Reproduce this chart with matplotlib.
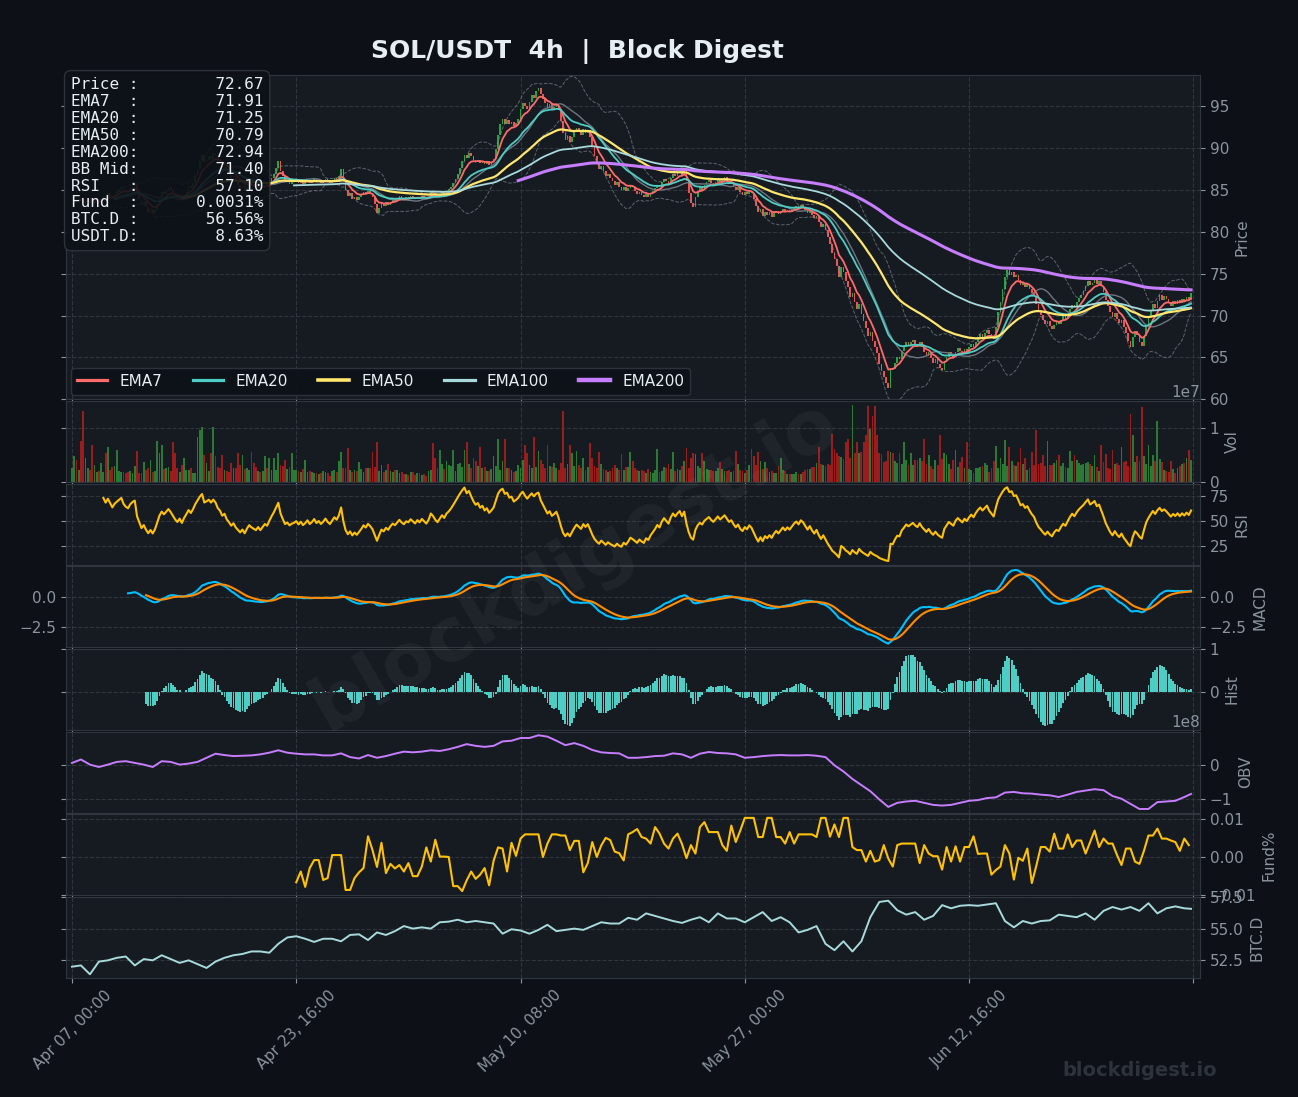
import numpy as np
import pandas as pd
import matplotlib
matplotlib.use("Agg")
import matplotlib.pyplot as plt

# ---------------- data ----------------
start_time = "2025-04-07 00:00"

close = [
    83.6, 83.9, 83.5, 84.0, 83.7, 83.3, 83.6, 84.0, 83.5, 83.2,
    83.5, 83.9, 83.6, 83.8, 84.3, 84.0, 84.6, 84.3, 84.0, 84.5,
    84.8, 85.1, 85.4, 85.0, 84.8, 84.7, 85.2, 85.5, 85.7, 84.5,
    83.9, 83.2, 83.5, 82.9, 82.4, 82.7, 82.2, 82.6, 83.3, 84.2,
    84.8, 84.5, 84.9, 85.3, 85.0, 84.6, 84.2, 83.9, 84.3, 83.8,
    84.4, 84.9, 85.5, 85.2, 85.8, 86.7, 87.5, 88.4, 89.2, 88.3,
    88.6, 89.0, 88.7, 89.4, 89.1, 88.5, 88.2, 87.6, 87.9, 87.2,
    86.8, 86.3, 86.6, 86.0, 85.6, 85.2, 85.5, 84.9, 85.4, 85.8,
    85.5, 85.3, 85.1, 85.4, 85.0, 85.3, 85.6, 85.4, 85.9, 86.4,
    86.9, 87.6, 88.4, 87.3, 86.6, 85.9, 86.1, 85.7, 85.9, 86.0,
    86.2, 85.8, 86.1, 85.7, 85.9, 86.2, 85.8, 86.0, 86.3, 85.9,
    86.1, 85.8, 86.0, 86.3, 86.0, 85.8, 86.1, 86.4, 86.2, 86.6,
    87.5, 86.2, 85.0, 84.3, 84.6, 83.9, 84.2, 83.8, 84.1, 84.4,
    84.8, 84.5, 84.9, 84.6, 84.2, 83.3, 82.2, 82.8, 83.4, 83.1,
    83.5, 83.2, 83.6, 83.9, 83.7, 84.0, 84.3, 84.0, 83.8, 84.1,
    84.0, 84.3, 84.1, 83.9, 84.2, 84.0, 84.3, 84.1, 83.9, 84.2,
    84.8, 84.6, 84.3, 84.1, 84.4, 84.7, 84.5, 84.9, 85.1, 85.4,
    85.8, 86.3, 86.9, 87.6, 88.4, 89.2, 88.8, 89.4, 89.0, 88.6,
    88.3, 88.6, 88.2, 88.5, 88.1, 88.4, 88.0, 88.3, 88.7, 89.9,
    91.6, 92.8, 93.4, 92.9, 93.3, 92.8, 93.1, 92.6, 93.0, 93.5,
    94.6, 95.4, 95.0, 94.7, 95.5, 96.3, 96.0, 96.8, 97.2, 96.4,
    95.9, 95.4, 94.8, 95.2, 94.6, 94.9, 95.3, 94.5, 93.2, 91.8,
    91.0, 91.4, 90.7, 91.3, 91.9, 92.4, 92.0, 91.6, 92.3, 91.8,
    92.2, 91.3, 90.1, 89.0, 88.2, 87.5, 87.9, 87.3, 86.6, 86.9,
    86.4, 86.0, 85.6, 85.9, 85.3, 85.0, 85.4, 84.9, 85.2, 85.6,
    85.3, 84.9, 84.5, 84.8, 84.4, 84.1, 84.5, 84.2, 84.6, 84.9,
    85.2, 85.6, 85.3, 85.9, 86.3, 86.0, 85.7, 86.4, 86.9, 86.6,
    87.0, 87.3, 86.8, 87.4, 86.0, 84.6, 83.4, 82.9, 84.2, 84.9,
    85.3, 85.0, 85.6, 85.9, 86.2, 85.8, 85.5, 85.9, 86.3, 85.9,
    86.2, 86.5, 86.1, 85.7, 85.9, 85.4, 85.0, 85.3, 84.7, 84.4,
    84.8, 84.5, 84.9, 84.6, 83.9, 83.1, 82.3, 82.7, 81.9, 82.4,
    82.0, 82.3, 81.8, 82.2, 82.5, 82.1, 82.4, 82.7, 82.3, 82.6,
    82.3, 82.6, 82.9, 83.1, 82.8, 83.2, 83.0, 82.6, 82.2, 82.5,
    82.0, 81.6, 81.9, 81.2, 80.6, 80.9, 80.2, 79.4, 78.6, 77.5,
    76.8, 75.9, 74.6, 75.8, 75.2, 74.1, 73.4, 72.2, 72.7, 71.6,
    70.8, 71.4, 70.2, 69.3, 68.5, 67.6, 68.1, 67.0, 66.2, 65.5,
    64.2, 63.4, 62.7, 61.9, 61.4, 63.8, 63.6, 64.4, 65.0, 64.8,
    65.8, 66.3, 66.9, 66.5, 66.8, 67.1, 66.6, 66.3, 66.9, 66.2,
    65.7, 65.2, 65.6, 64.9, 64.4, 64.8, 64.2, 63.8, 63.5, 64.6,
    65.1, 65.6, 65.3, 65.0, 65.7, 66.1, 65.8, 65.5, 66.0, 65.7,
    66.2, 66.6, 66.3, 66.9, 67.4, 67.8, 67.5, 67.9, 68.3, 67.8,
    67.5, 67.2, 68.6, 70.4, 71.6, 73.2, 74.6, 75.4, 74.8, 75.2,
    74.6, 74.9, 74.3, 73.6, 73.9, 73.4, 73.8, 73.2, 72.7, 72.3,
    71.4, 70.6, 70.1, 69.5, 69.0, 69.4, 68.8, 68.4, 68.9, 69.2,
    69.0, 69.5, 69.9, 69.6, 70.2, 70.8, 71.3, 71.0, 71.6, 72.1,
    72.5, 72.9, 73.5, 74.1, 73.6, 73.9, 74.3, 73.8, 74.1, 73.5,
    72.8, 71.9, 71.2, 70.4, 69.8, 70.3, 69.6, 69.1, 69.5, 68.6,
    67.9, 67.0, 66.3, 67.4, 68.2, 67.7, 66.9, 66.4, 67.6, 68.9,
    69.8, 70.6, 71.4, 70.9, 71.8, 72.4, 71.9, 72.3, 72.0, 71.6,
    71.2, 71.7, 71.4, 71.9, 71.5, 72.0, 71.7, 72.2, 71.9, 72.67,
]

# volume per bar, millions
volume_m = [
    2.5, 4.7, 4.1, 2.2, 7.5, 13.1, 4.4, 2.5, 2.3, 6.8,
    3.2, 1.9, 2.1, 3.5, 1.8, 5.3, 6.5, 2.2, 2.8, 2.9,
    5.9, 2.0, 1.9, 1.8, 1.6, 1.9, 2.0, 1.7, 2.9, 5.7,
    1.6, 1.7, 3.6, 2.2, 2.5, 4.1, 1.9, 2.0, 7.5, 5.3,
    6.8, 2.4, 2.6, 2.7, 2.1, 7.4, 5.3, 2.5, 1.9, 3.1,
    4.5, 2.2, 2.2, 2.6, 1.7, 1.6, 8.3, 9.5, 10.1, 5.0,
    3.5, 2.1, 5.3, 10.1, 4.7, 2.7, 2.6, 5.0, 2.2, 2.0,
    1.9, 3.5, 2.6, 2.5, 5.3, 3.1, 5.0, 2.4, 2.5, 2.2,
    5.6, 3.5, 2.8, 2.0, 1.8, 2.1, 4.7, 2.5, 4.4, 2.3,
    4.4, 2.2, 5.3, 3.1, 3.0, 4.1, 2.4, 2.8, 5.3, 2.2,
    2.2, 2.0, 1.9, 2.4, 4.1, 1.9, 2.1, 1.8, 1.7, 1.6,
    1.5, 1.7, 2.0, 1.9, 1.6, 1.1, 2.0, 2.2, 1.9, 3.9,
    5.6, 2.5, 2.6, 6.2, 2.2, 1.8, 2.2, 2.1, 3.6, 2.4,
    1.9, 2.6, 2.5, 2.6, 5.6, 2.8, 7.3, 2.1, 3.1, 1.9,
    2.3, 3.3, 2.0, 1.9, 2.2, 2.3, 1.6, 1.8, 1.5, 1.4,
    1.3, 1.9, 1.8, 1.3, 1.7, 1.6, 1.3, 1.4, 1.2, 2.1,
    2.2, 7.1, 4.4, 2.5, 5.9, 3.3, 2.4, 3.8, 3.1, 3.0,
    5.9, 2.1, 3.4, 3.5, 2.8, 5.9, 7.3, 3.4, 2.6, 4.4,
    3.9, 2.9, 6.5, 2.6, 2.7, 2.1, 2.0, 2.4, 4.7, 3.0,
    8.0, 2.2, 3.9, 8.0, 2.5, 2.5, 2.3, 1.8, 2.1, 3.1,
    2.6, 4.1, 6.9, 5.3, 3.1, 2.6, 8.3, 2.7, 5.7, 4.1,
    3.4, 2.5, 6.8, 3.0, 2.7, 3.5, 2.6, 2.2, 3.5, 13.0,
    2.5, 3.3, 6.9, 5.3, 3.0, 5.7, 3.1, 2.6, 4.4, 2.3,
    2.8, 7.1, 4.4, 3.0, 2.6, 5.6, 3.3, 2.4, 2.2, 1.9,
    2.0, 2.6, 3.2, 2.5, 2.3, 5.1, 2.3, 2.7, 2.8, 5.6,
    3.8, 2.5, 2.3, 2.0, 2.2, 2.1, 1.6, 2.4, 1.8, 1.7,
    2.3, 6.1, 1.9, 2.1, 2.7, 2.6, 3.4, 2.4, 5.5, 2.1,
    2.4, 2.2, 3.0, 3.9, 6.3, 2.5, 4.4, 5.3, 5.1, 3.0,
    2.6, 5.3, 3.8, 2.4, 2.3, 2.2, 2.0, 2.1, 2.5, 3.6,
    2.4, 2.0, 2.1, 2.2, 1.9, 2.0, 5.7, 3.4, 2.2, 2.1,
    1.6, 2.2, 3.1, 6.1, 4.7, 3.1, 5.5, 3.9, 2.4, 3.6,
    2.5, 1.9, 2.0, 1.6, 1.6, 2.9, 4.4, 2.2, 2.0, 1.5,
    1.5, 1.4, 1.4, 1.9, 1.5, 1.5, 1.8, 2.2, 2.4, 2.4,
    2.8, 2.7, 3.5, 6.5, 3.4, 3.1, 3.0, 3.4, 3.1, 8.9,
    6.1, 5.3, 4.7, 4.6, 4.2, 7.4, 8.0, 4.5, 14.2, 5.3,
    7.4, 5.3, 5.6, 7.4, 8.6, 13.9, 9.8, 12.2, 13.9, 8.6,
    5.3, 5.1, 3.6, 3.9, 5.7, 5.5, 5.4, 3.8, 3.5, 5.3,
    3.4, 7.3, 4.1, 3.1, 5.4, 3.2, 4.0, 4.1, 4.5, 3.8,
    8.0, 3.4, 4.9, 2.9, 2.4, 4.1, 3.2, 8.6, 4.3, 5.3,
    5.0, 3.3, 2.4, 4.0, 5.9, 2.8, 3.6, 4.6, 2.6, 7.4,
    2.4, 2.2, 1.6, 2.5, 2.6, 2.8, 2.9, 3.5, 3.1, 1.9,
    2.6, 3.9, 6.7, 2.5, 4.4, 3.4, 7.7, 3.0, 6.5, 3.8,
    3.2, 3.0, 3.6, 6.2, 3.3, 4.4, 2.2, 2.6, 5.5, 3.1,
    9.5, 3.4, 3.5, 5.0, 2.9, 7.5, 3.1, 3.2, 3.5, 4.0,
    5.0, 2.9, 3.5, 2.8, 2.6, 5.7, 3.8, 5.0, 4.0, 3.5,
    3.1, 3.4, 3.5, 3.7, 3.4, 3.0, 5.0, 2.8, 2.0, 6.9,
    3.6, 5.1, 2.5, 2.4, 5.9, 3.4, 3.5, 3.2, 6.5, 3.7,
    3.8, 2.9, 12.5, 8.7, 3.6, 4.7, 3.8, 13.8, 4.7, 3.4,
    6.8, 2.9, 5.0, 3.8, 11.3, 4.2, 3.6, 2.2, 2.1, 1.9,
    3.8, 2.4, 1.6, 2.5, 3.0, 3.4, 3.5, 4.5, 5.9, 4.1,
]

# funding rate from bar 100, one value per 8h (2 bars), in 0.001 %
funding_start = 100
funding_k = [
    -6.6, -3.8, -7.8, -2.9, -0.8, -0.8, -6.0, -5.5, 0.5, 0.5,
    0.5, -8.6, -8.6, -5.5, -4.0, -2.9, 5.4, 1.8, -2.6, 3.7,
    -4.2, -1.8, -3.0, -2.1, -3.8, -1.6, -5.0, -5.0, -2.5, 2.5,
    -1.2, 4.5, 0.1, 0.1, 0.0, -7.6, -7.6, -8.9, -6.1, -3.8,
    -5.7, -4.6, -2.9, -7.4, -1.0, 2.5, 2.2, -3.8, 3.7, 0.3,
    4.8, 5.9, 5.9, 5.9, 5.9, 0.0, 3.5, 5.9, 5.9, 5.6,
    5.6, 1.8, 4.2, 4.2, -4.0, -1.6, 3.9, 0.0, 3.0, 5.0,
    4.4, 1.4, 1.0, -0.9, 5.9, 6.5, 7.3, 5.2, 4.8, 3.5,
    7.8, 6.1, 3.5, 2.2, 4.8, 6.1, 3.4, -0.3, 3.1, 0.9,
    7.8, 9.1, 6.5, 6.5, 6.5, 3.1, 1.6, 8.2, 3.9, 6.9,
    10.2, 10.2, 10.2, 5.2, 5.2, 10.2, 10.2, 5.2, 5.2, 3.5,
    6.5, 3.5, 5.9, 5.9, 5.9, 5.9, 5.2, 10.2, 10.2, 5.3,
    8.5, 5.2, 10.2, 10.2, 2.6, 1.8, 1.8, -1.2, 1.6, -1.2,
    -0.8, 3.1, -0.4, -2.5, 3.1, 3.5, 3.5, 3.5, 3.5, -1.6,
    3.1, 0.9, 0.2, 0.2, -3.3, 2.6, -1.2, 2.8, -1.2, 2.6,
    2.6, 5.4, 0.8, 0.9, 0.9, -4.6, -3.4, -2.5, 3.1, 0.9,
    -5.9, -0.2, -1.0, 2.2, -6.8, -2.3, 2.6, 2.6, 1.4, 6.1,
    2.2, 2.2, 5.9, 2.6, 4.3, 4.3, 0.9, 3.9, 6.9, 2.6,
    4.8, 3.5, 3.5, 0.5, -2.1, 2.2, 2.2, -1.2, -1.8, 1.6,
    5.6, 5.6, 7.4, 4.8, 4.8, 4.3, 3.9, 1.6, 4.8, 3.1,
]

# OBV and BTC dominance, one reading every 4 bars plus the last bar
slow_bars = list(range(0, 500, 4)) + [499]
obv_e8 = [
    0.05, 0.15, 0.0, -0.07, 0.0, 0.08, 0.1, 0.05, 0.0, -0.07,
    0.1, 0.08, 0.0, 0.03, 0.08, 0.2, 0.32, 0.28, 0.25, 0.26,
    0.27, 0.3, 0.35, 0.42, 0.35, 0.32, 0.3, 0.3, 0.27, 0.27,
    0.33, 0.22, 0.18, 0.28, 0.2, 0.25, 0.32, 0.38, 0.36, 0.38,
    0.42, 0.4, 0.45, 0.52, 0.6, 0.55, 0.52, 0.55, 0.68, 0.7,
    0.78, 0.78, 0.86, 0.82, 0.7, 0.57, 0.63, 0.55, 0.43, 0.36,
    0.34, 0.33, 0.2, 0.2, 0.22, 0.25, 0.26, 0.33, 0.3, 0.2,
    0.32, 0.37, 0.34, 0.33, 0.3, 0.2, 0.22, 0.25, 0.27, 0.28,
    0.27, 0.27, 0.28, 0.26, 0.22, -0.02, -0.2, -0.42, -0.6, -0.78,
    -1.02, -1.24, -1.12, -1.08, -1.06, -1.12, -1.18, -1.2, -1.18, -1.12,
    -1.06, -1.04, -0.98, -0.96, -0.82, -0.8, -0.84, -0.85, -0.88, -0.9,
    -0.95, -0.88, -0.8, -0.76, -0.72, -0.75, -0.92, -1.0, -1.15, -1.3,
    -1.3, -1.1, -1.08, -1.06, -0.95, -0.86,
]
btc_dom = [
    52.0, 52.1, 51.4, 52.4, 52.5, 52.7, 52.8, 52.1, 52.6, 52.5,
    52.9, 52.6, 52.3, 52.5, 52.2, 51.9, 52.4, 52.7, 52.9, 53.0,
    53.2, 53.2, 53.1, 53.8, 54.3, 54.4, 54.2, 53.95, 54.2, 54.2,
    54.0, 54.5, 54.55, 54.1, 54.7, 54.5, 54.8, 55.2, 55.0, 55.1,
    55.0, 55.5, 55.55, 55.7, 55.5, 55.6, 55.5, 55.4, 54.6, 54.95,
    54.85, 54.6, 54.9, 55.3, 54.8, 54.9, 55.0, 54.9, 55.2, 55.5,
    55.4, 55.4, 55.85, 55.7, 56.2, 56.0, 55.8, 55.6, 55.45, 55.7,
    55.9, 55.5, 56.2, 55.8, 55.8, 55.5, 55.9, 56.3, 55.6, 55.9,
    55.5, 54.7, 54.9, 55.2, 53.8, 53.3, 54.0, 53.2, 54.0, 55.9,
    57.1, 57.2, 56.45, 56.1, 56.3, 55.7, 56.0, 56.85, 56.6, 56.8,
    56.85, 56.8, 56.9, 57.0, 55.6, 55.1, 55.6, 55.4, 55.6, 55.65,
    56.1, 56.0, 55.9, 56.2, 55.7, 56.4, 56.7, 56.5, 56.7, 56.4,
    57.0, 56.2, 56.6, 56.75, 56.6, 56.56,
]

info_labels = ["Price", "EMA7", "EMA20", "EMA50", "EMA200", "BB Mid",
               "RSI", "Fund", "BTC.D", "USDT.D"]
info_values = ["72.67", "71.91", "71.25", "70.79", "72.94", "71.40",
               "57.10", "0.0031%", "56.56%", "8.63%"]

# ---------------- indicators ----------------
c = pd.Series(close)
o = c.shift(1).fillna(c.iloc[0])
up = (c >= o).values
x = np.arange(len(c))
dates = pd.date_range(start_time, periods=len(c), freq="4h")

ema = {n: c.ewm(span=n, adjust=False, min_periods=n).mean() for n in (7, 20, 50, 100, 200)}
bb_mid = c.rolling(20).mean()
bb_sd = c.rolling(20).std()

delta = c.diff()
gain = delta.clip(lower=0).ewm(alpha=1 / 14, adjust=False, min_periods=14).mean()
loss = (-delta.clip(upper=0)).ewm(alpha=1 / 14, adjust=False, min_periods=14).mean()
rsi = 100 - 100 / (1 + gain / loss)

ema12 = c.ewm(span=12, adjust=False).mean()
ema26 = c.ewm(span=26, adjust=False, min_periods=26).mean()
macd = ema12 - ema26
signal = macd.ewm(span=9, adjust=False, min_periods=9).mean()
hist = macd - signal

vol = np.array(volume_m) * 1e6
fund = np.array(funding_k) / 1000
fund_x = np.arange(funding_start, funding_start + 2 * len(funding_k), 2)
obv = np.array(obv_e8) * 1e8

# ---------------- style ----------------
BG = "#0d1117"
PANEL = "#161b22"
GRID = "#30363d"
TXT = "#8b949e"

fig, axes = plt.subplots(8, 1, figsize=(12.98, 10.97), dpi=100, sharex=True,
                         gridspec_kw=dict(height_ratios=[4, 1, 1, 1, 1, 1, 1, 1], hspace=0.014))
fig.patch.set_facecolor(BG)
fig.subplots_adjust(left=0.0508, right=0.9245, top=0.9316, bottom=0.1085)
ax_p, ax_v, ax_r, ax_m, ax_h, ax_o, ax_f, ax_b = axes

for ax in axes:
    ax.set_facecolor(PANEL)
    for s in ax.spines.values():
        s.set_color(GRID)
    ax.grid(True, color=GRID, linestyle="--", linewidth=0.8)
    ax.set_axisbelow(True)
    ax.yaxis.tick_right()
    ax.yaxis.set_label_position("right")
    ax.tick_params(axis="y", left=True, right=True, labelleft=False, labelright=True,
                   colors=TXT, labelsize=11)
    ax.tick_params(axis="x", colors=TXT, labelsize=11)
    ax.yaxis.set_offset_position("right")
    ax.yaxis.get_offset_text().set_color(TXT)
    ax.yaxis.get_offset_text().set_fontsize(11)

# price panel
body_lo = np.minimum(o.values, c.values)
body_h = np.abs(c.values - o.values)
candle_col = np.where(up, "#26a641", "#ef5350")
ax_p.bar(x, body_h, bottom=body_lo, width=0.75, color=candle_col, zorder=2)
ax_p.plot(x, bb_mid + 2 * bb_sd, color=TXT, ls="--", lw=0.7, alpha=0.6, zorder=3)
ax_p.plot(x, bb_mid - 2 * bb_sd, color=TXT, ls="--", lw=0.7, alpha=0.6, zorder=3)
ax_p.plot(x, bb_mid, color="#6e7681", lw=1.0, zorder=3)
ema_style = {7: ("#ff6b6b", 1.3), 20: ("#4ecdc4", 1.3), 50: ("#ffe66d", 1.6),
             100: ("#a8dadc", 1.3), 200: ("#c77dff", 2.2)}
for n, (col, lw) in ema_style.items():
    ax_p.plot(x, ema[n], color=col, lw=lw, label=f"EMA{n}", zorder=4)
ax_p.set_ylim(60, 98.7)
ax_p.set_ylabel("Price", color=TXT, fontsize=11)
leg = ax_p.legend(loc="lower left", ncol=5, fontsize=11, facecolor=BG, edgecolor=GRID,
                  framealpha=0.9, labelcolor="#e6edf3", borderaxespad=0.3)
for line in leg.get_lines():
    line.set_linewidth(line.get_linewidth() + 1.0)

info = "\n".join(f"{lab:<6}:{val:>13}" for lab, val in zip(info_labels, info_values))
ax_p.text(0.0044, 0.994, info, transform=ax_p.transAxes, ha="left", va="top",
          family="DejaVu Sans Mono", fontsize=11.5, color="#e6edf3", linespacing=1.16, zorder=10,
          bbox=dict(boxstyle="round,pad=0.4", facecolor=BG, edgecolor=GRID, alpha=0.9))

# volume
vol_col = np.where(up, "#2a7a36", "#9a1c1c")
ax_v.bar(x, vol, width=0.8, color=vol_col)
ax_v.set_yticks([0, 1e7])
ax_v.set_ylabel("Vol", color=TXT, fontsize=11)

# RSI
ax_r.plot(x, rsi, color="#ffc107", lw=1.5)
ax_r.set_yticks([25, 50, 75])
ax_r.set_ylabel("RSI", color=TXT, fontsize=11)

# MACD
ax_m.plot(x, macd, color="#00bfff", lw=1.5)
ax_m.plot(x, signal, color="#ff8c00", lw=1.5)
ax_m.set_yticks([-2.5, 0.0])
ax_m.tick_params(axis="y", labelleft=True)
ax_m.set_ylabel("MACD", color=TXT, fontsize=11)

# histogram
ax_h.bar(x, hist, width=0.8, color="#4ecdc4")
ax_h.set_yticks([0, 1])
ax_h.set_ylabel("Hist", color=TXT, fontsize=11)

# OBV
ax_o.plot(slow_bars, obv, color="#c77dff", lw=1.4)
ax_o.set_yticks([-1e8, 0])
ax_o.set_ylabel("OBV", color=TXT, fontsize=11)

# funding
ax_f.plot(fund_x, fund, color="#ffc107", lw=1.5)
ax_f.set_yticks([-0.01, 0.0, 0.01])
ax_f.set_ylabel("Fund%", color=TXT, fontsize=11)

# BTC dominance
ax_b.plot(slow_bars, btc_dom, color="#a8dadc", lw=1.4)
ax_b.set_yticks([52.5, 55.0, 57.5])
ax_b.set_ylabel("BTC.D", color=TXT, fontsize=11)

# x axis
ticks = list(range(0, 501, 100))
labels = [dates[t].strftime("%b %d, %H:%M") if t < len(dates) else "" for t in ticks]
ax_b.set_xticks(ticks)
ax_b.set_xticklabels(labels, rotation=45)
ax_b.set_xlim(-2.7, 503)

# titles and watermarks
fig.text(577 / 1298, 1 - 52 / 1097, "SOL/USDT  4h  |  Block Digest", ha="center", va="center",
         fontsize=18, fontweight="bold", color="#e6edf3")
fig.text(0.443, 0.485, "blockdigest.io", ha="center", va="center", fontsize=54,
         fontweight="bold", color="white", alpha=0.045, rotation=30)
fig.text(1140 / 1298, 1 - 1070 / 1097, "blockdigest.io", ha="center", va="center",
         fontsize=14, fontweight="bold", color="#2d333b")

fig.savefig("out.png", dpi=100, facecolor=BG)
